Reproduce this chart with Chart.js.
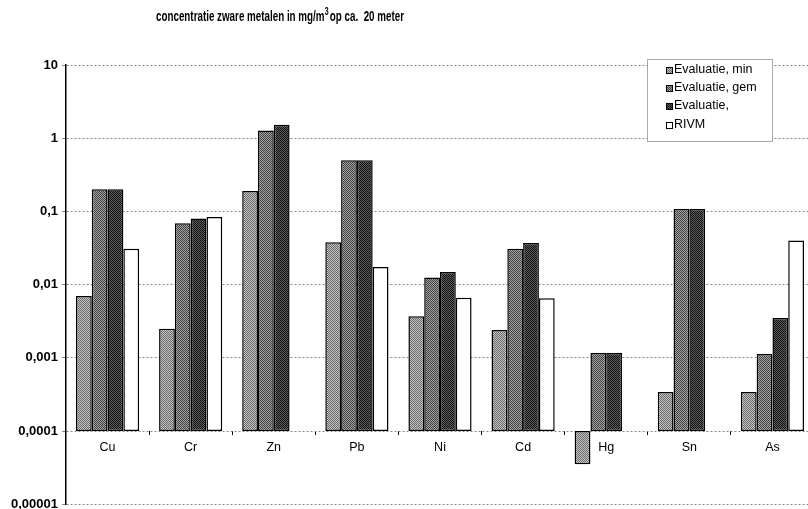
<!DOCTYPE html>
<html>
<head>
<meta charset="utf-8">
<script src="https://cdn.jsdelivr.net/npm/chart.js@4/dist/chart.umd.min.js"></script>
<style>
  html, body { margin: 0; padding: 0; background: #fff; overflow: hidden; }
  #wrap { width: 808px; height: 509px; overflow: hidden; position: relative; }
  canvas { display: block; }
</style>
</head>
<body>
<div id="wrap"><canvas id="c" width="820" height="516"></canvas></div>
<script>
const titleParts = ['concentratie zware metalen in mg/m', '3', 'op ca.  20 meter'];
const categories = ['Cu', 'Cr', 'Zn', 'Pb', 'Ni', 'Cd', 'Hg', 'Sn', 'As'];
const seriesNames = ['Evaluatie, min', 'Evaluatie, gem', 'Evaluatie,', 'RIVM'];
const evalMin = [0.007, 0.0025, 0.19, 0.038, 0.0037, 0.0024, 0.000035, 0.00034, 0.00034];
const evalGem = [0.2, 0.069, 1.27, 0.5, 0.0125, 0.031, 0.00116, 0.108, 0.00113];
const evalMax = [0.2, 0.08, 1.53, 0.5, 0.0149, 0.037, 0.00116, 0.108, 0.0035];
const rivm = [0.031, 0.084, null, 0.0174, 0.0066, 0.0065, null, null, 0.040];
const yTicks = [10, 1, 0.1, 0.01, 0.001, 0.0001, 0.00001];
const axisCross = 0.0001;

function makePattern(light, dark) {
  const c = document.createElement('canvas');
  c.width = 2; c.height = 2;
  const g = c.getContext('2d');
  g.fillStyle = light; g.fillRect(0, 0, 2, 2);
  g.fillStyle = dark; g.fillRect(0, 0, 1, 1); g.fillRect(1, 1, 1, 1);
  return g.createPattern(c, 'repeat');
}
const fills = [
  makePattern('#c4c4c4', '#6a6a6a'),
  makePattern('#a4a4a4', '#404040'),
  makePattern('#5c5c5c', '#121212'),
  '#ffffff'
];
const seriesValues = [evalMin, evalGem, evalMax, rivm];

const datasets = seriesValues.map((vals, i) => ({
  label: seriesNames[i],
  data: vals.map(v => v == null ? null : [axisCross, v]),
  backgroundColor: fills[i],
  borderColor: '#000',
  borderWidth: 1.5,
  borderSkipped: false,
  categoryPercentage: 0.76,
  barPercentage: 1.0
}));

const overlay = {
  id: 'overlay',
  afterDraw(chart) {
    const ctx = chart.ctx;
    ctx.save();
    // title with superscript
    const mainFont = 'bold 14px "Liberation Sans", Arial, sans-serif';
    const supFont = 'bold 10px "Liberation Sans", Arial, sans-serif';
    ctx.fillStyle = '#000';
    ctx.textBaseline = 'alphabetic';
    ctx.textAlign = 'left';
    ctx.font = mainFont;
    const w0 = ctx.measureText(titleParts[0]).width;
    const w2 = ctx.measureText(titleParts[2]).width;
    ctx.font = supFont;
    const w1 = ctx.measureText(titleParts[1]).width + 2;
    const total = w0 + w1 + w2;
    const target = 248, left = 156, base = 21;
    const sx = target / total;
    ctx.translate(left, 0);
    ctx.scale(sx, 1);
    ctx.font = mainFont;
    ctx.fillText(titleParts[0], 0, base);
    ctx.font = supFont;
    ctx.fillText(titleParts[1], w0 + 0.5, base - 6);
    ctx.font = mainFont;
    ctx.fillText(titleParts[2], w0 + w1, base);
    ctx.setTransform(1, 0, 0, 1, 0, 0);
    // legend
    const lx = 647.5, ly = 59.5, lw = 125, lh = 82;
    ctx.fillStyle = '#fff';
    ctx.fillRect(lx, ly, lw, lh);
    ctx.strokeStyle = '#555';
    ctx.lineWidth = 1;
    ctx.setLineDash([1, 1]);
    ctx.strokeRect(lx, ly, lw, lh);
    ctx.setLineDash([]);
    ctx.font = '12.5px "Liberation Sans", Arial, sans-serif';
    ctx.textAlign = 'left';
    ctx.textBaseline = 'middle';
    const rows = [70, 88, 106, 125];
    chart.data.datasets.forEach((ds, i) => {
      const y = rows[i];
      ctx.fillStyle = ds.backgroundColor;
      ctx.fillRect(666.5, y - 2.5, 6, 6);
      ctx.strokeStyle = '#000';
      ctx.strokeRect(666.5, y - 2.5, 6, 6);
      ctx.fillStyle = '#000';
      ctx.fillText(ds.label, 674, y);
    });
    ctx.restore();
  }
};

new Chart(document.getElementById('c'), {
  type: 'bar',
  data: { labels: categories, datasets },
  options: {
    responsive: false,
    animation: false,
    layout: { padding: { left: 0, top: 65, right: 6, bottom: 9 } },
    plugins: { legend: { display: false }, title: { display: false }, tooltip: { enabled: false } },
    scales: {
      x: {
        type: 'category',
        position: { y: axisCross },
        grid: { drawOnChartArea: false, drawTicks: true, tickLength: 4, color: '#000', offset: true },
        border: { display: false },
        ticks: { color: '#000', font: { family: 'Liberation Sans', size: 12.5 }, padding: 5 }
      },
      y: {
        type: 'logarithmic',
        min: 0.00001,
        max: 10,
        afterBuildTicks: s => { s.ticks = yTicks.map(v => ({ value: v, major: true })); },
        afterFit: s => { s.width = 66; },
        ticks: {
          color: '#000',
          font: { family: 'Liberation Sans', size: 13, weight: 'bold' },
          padding: 4,
          autoSkip: false,
          callback: v => String(v).replace('.', ',')
        },
        grid: { color: '#888', tickLength: 4, drawTicks: true, lineWidth: 1 },
        border: { display: true, color: '#000', width: 1.5, dash: [2, 2] }
      }
    }
  },
  plugins: [overlay]
});
</script>
</body>
</html>
